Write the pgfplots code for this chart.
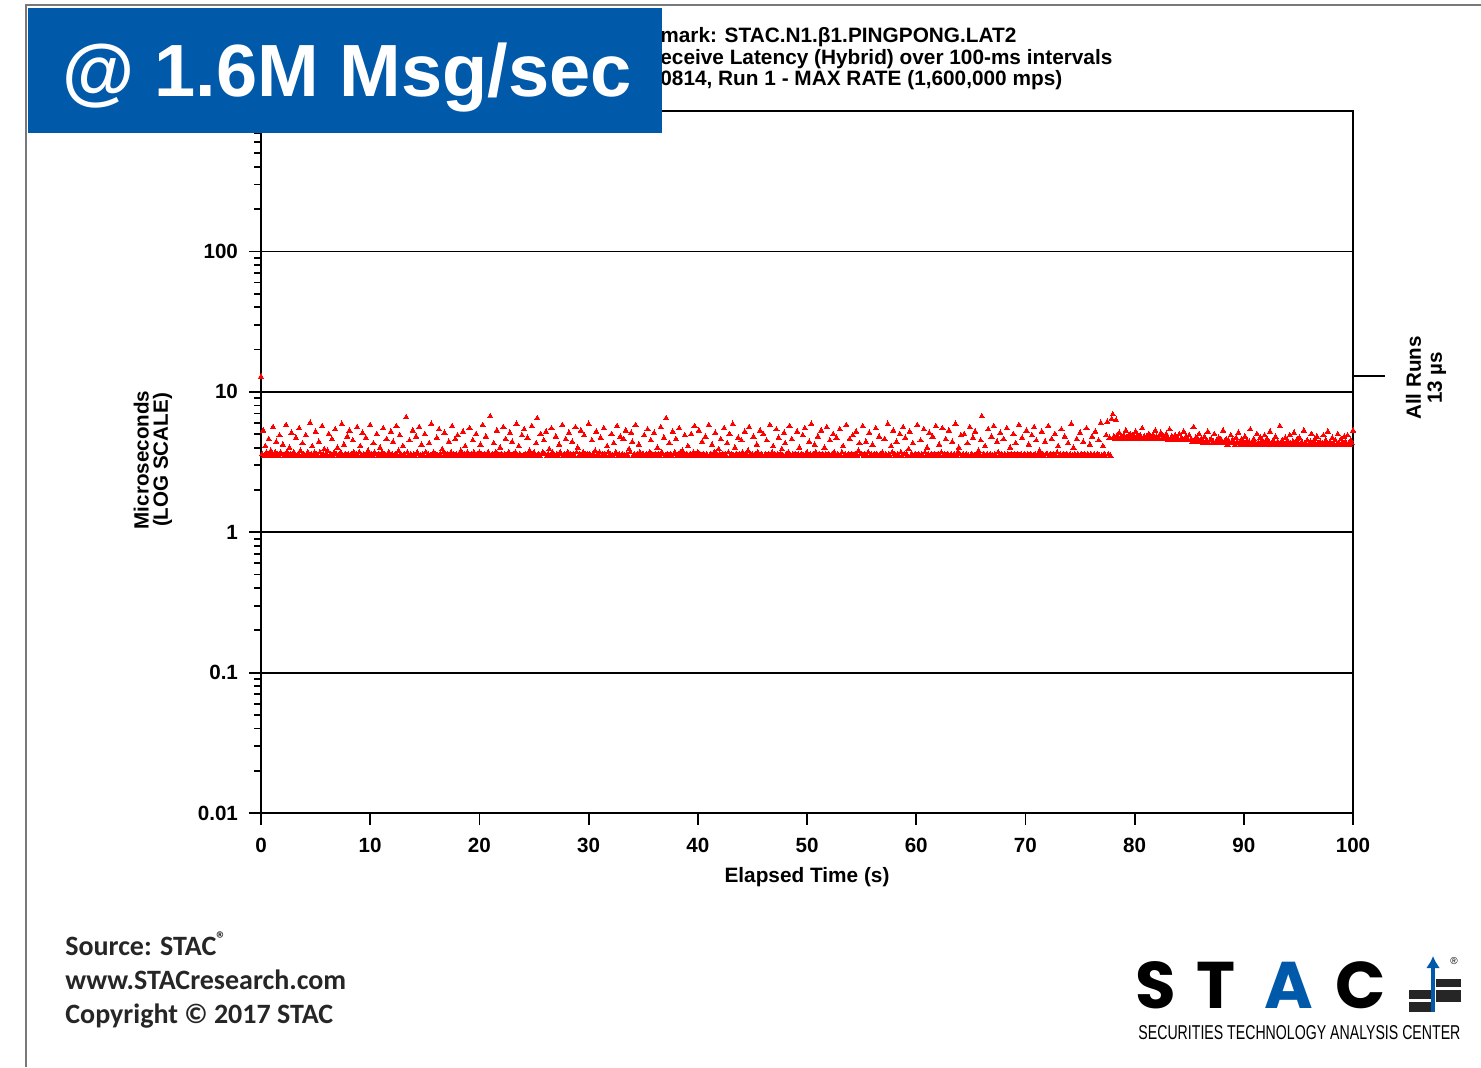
\documentclass[border=0pt]{standalone}
\usepackage{fontspec}
\setmainfont{Liberation Sans}
\newfontfamily\carlito{Carlito}
\newfontfamily\poppins{Poppins}
\usepackage{graphicx}
\usepackage{pgfplots}
\usetikzlibrary{arrows.meta}
\pgfplotsset{compat=1.18}
\definecolor{stacblue}{RGB}{0,89,169}
\definecolor{pagegray}{RGB}{120,120,120}
\definecolor{ptred}{RGB}{255,0,0}

\begin{document}
\begin{tikzpicture}[x=0.5pt,y=0.5pt]
\useasboundingbox (0,0) rectangle (1481,1067);
\fill[white] (0,0) rectangle (1481,1067);
\draw[pagegray, line width=1pt] (26,0) -- (26,1062) -- (1481,1062);

\begin{axis}[
  at={(130.5pt,127pt)}, anchor=south west,
  scale only axis, width=546pt, height=351pt,
  clip=false,
  xmin=0, xmax=100, ymin=0.01, ymax=1000,
  ymode=log,
  xtick={0,10,20,30,40,50,60,70,80,90,100},
  xticklabels={0,10,20,30,40,50,60,70,80,90,100},
  ytick={0.01,0.1,1,10,100},
  yticklabels={0.01,0.1,1,10,100},
  minor ytick={0.02,0.03,0.04,0.05,0.06,0.07,0.08,0.09,
    0.2,0.3,0.4,0.5,0.6,0.7,0.8,0.9,2,3,4,5,6,7,8,9,
    20,30,40,50,60,70,80,90,200,300,400,500,600,700,800,900},
  xtick pos=bottom, ytick pos=left,
  tick align=outside,
  major tick length=6pt, minor tick length=3.5pt,
  every tick/.style={black, line width=0.9pt},
  axis line style={line width=1pt},
  ymajorgrids, grid style={black, line width=0.9pt},
  /pgf/number format/assume math mode=true,
  ticklabel style={font=\fontsize{10.3}{12}\selectfont\bfseries},
  yticklabel style={xshift=-2pt},
  xticklabel style={yshift=-3pt},
  xlabel={Elapsed Time (s)},
  xlabel style={font=\fontsize{10.4}{12}\selectfont\bfseries, at={(axis description cs:0.5,0)}, anchor=center, yshift=-32pt},
]
\addplot[only marks, mark=triangle*, mark size=1.5pt, color=ptred, mark options={line width=0pt}] coordinates {
(0.0,12.8)(0.1,3.6)(0.2,5.3)(0.3,3.5)(0.4,4.1)(0.5,3.7)(0.6,3.6)(0.7,4.6)(0.8,3.5)(0.9,3.8)
(1.0,3.6)(1.1,5.6)(1.2,3.5)(1.3,3.7)(1.4,4.4)(1.5,3.6)(1.6,3.5)(1.7,4.9)(1.8,3.7)(1.9,3.6)
(2.0,4.2)(2.1,3.5)(2.2,3.6)(2.3,5.8)(2.4,3.7)(2.5,3.5)(2.6,4.0)(2.7,3.6)(2.8,5.1)(2.9,3.5)
(3.0,3.7)(3.1,3.6)(3.2,4.7)(3.3,3.5)(3.4,3.6)(3.5,5.5)(3.6,3.8)(3.7,3.5)(3.8,4.3)(3.9,3.6)
(4.0,3.5)(4.1,4.9)(4.2,3.6)(4.3,3.7)(4.4,3.5)(4.5,6.0)(4.6,3.6)(4.7,4.1)(4.8,3.5)(4.9,3.7)
(5.0,5.2)(5.1,3.6)(5.2,3.5)(5.3,4.4)(5.4,3.7)(5.5,3.5)(5.6,5.7)(5.7,3.6)(5.8,3.9)(5.9,3.5)
(6.0,3.6)(6.1,3.8)(6.2,5.0)(6.3,3.5)(6.4,3.6)(6.5,4.6)(6.6,3.5)(6.7,3.7)(6.8,5.4)(6.9,3.6)
(7.0,4.0)(7.1,3.5)(7.2,3.6)(7.3,3.7)(7.4,5.9)(7.5,3.5)(7.6,4.2)(7.7,3.6)(7.8,3.5)(7.9,4.8)
(8.0,3.6)(8.1,5.3)(8.2,3.5)(8.3,3.6)(8.4,4.5)(8.5,3.7)(8.6,3.5)(8.7,3.6)(8.8,5.6)(8.9,3.5)
(9.0,3.7)(9.1,4.1)(9.2,3.5)(9.3,5.1)(9.4,3.6)(9.5,3.5)(9.6,4.7)(9.7,3.6)(9.8,3.8)(9.9,3.5)
(10.0,5.8)(10.1,3.6)(10.2,3.5)(10.3,4.3)(10.4,3.7)(10.5,3.6)(10.6,5.0)(10.7,3.5)(10.8,3.6)(10.9,4.0)
(11.0,3.5)(11.1,3.7)(11.2,5.5)(11.3,3.6)(11.4,3.5)(11.5,4.6)(11.6,3.6)(11.7,3.7)(11.8,3.5)(11.9,5.2)
(12.0,3.6)(12.1,4.4)(12.2,3.5)(12.3,3.6)(12.4,5.7)(12.5,3.5)(12.6,3.8)(12.7,4.9)(12.8,3.6)(12.9,3.5)
(13.0,4.1)(13.1,3.6)(13.2,3.5)(13.3,6.6)(13.4,3.7)(13.5,3.5)(13.6,4.5)(13.7,3.6)(13.8,3.5)(13.9,5.3)
(14.0,3.6)(14.1,3.5)(14.2,4.8)(14.3,3.7)(14.4,3.6)(14.5,5.6)(14.6,3.5)(14.7,4.2)(14.8,3.6)(14.9,3.5)
(15.0,5.0)(15.1,3.7)(15.2,3.5)(15.3,3.6)(15.4,4.3)(15.5,3.5)(15.6,5.9)(15.7,3.6)(15.8,3.7)(15.9,3.5)
(16.0,3.6)(16.1,4.7)(16.2,3.5)(16.3,5.4)(16.4,3.6)(16.5,3.5)(16.6,3.9)(16.7,3.7)(16.8,5.1)(16.9,3.6)
(17.0,3.5)(17.1,3.6)(17.2,4.4)(17.3,3.5)(17.4,3.7)(17.5,5.7)(17.6,3.6)(17.7,3.5)(17.8,4.6)(17.9,3.6)
(18.0,4.9)(18.1,3.5)(18.2,3.6)(18.3,3.8)(18.4,3.5)(18.5,5.2)(18.6,3.6)(18.7,4.1)(18.8,3.5)(18.9,3.7)
(19.0,3.6)(19.1,5.5)(19.2,3.5)(19.3,3.6)(19.4,4.5)(19.5,3.7)(19.6,3.5)(19.7,5.0)(19.8,3.6)(19.9,3.5)
(20.0,3.7)(20.1,4.2)(20.2,3.6)(20.3,5.8)(20.4,3.5)(20.5,3.6)(20.6,4.8)(20.7,3.5)(20.8,3.7)(20.9,3.6)
(21.0,6.7)(21.1,3.5)(21.2,3.6)(21.3,4.3)(21.4,3.5)(21.5,3.7)(21.6,5.3)(21.7,3.6)(21.8,3.5)(21.9,4.0)
(22.0,3.6)(22.1,3.5)(22.2,5.6)(22.3,3.6)(22.4,4.6)(22.5,3.5)(22.6,3.6)(22.7,3.7)(22.8,5.1)(22.9,3.5)
(23.0,4.4)(23.1,3.6)(23.2,3.5)(23.3,3.7)(23.4,5.9)(23.5,3.5)(23.6,4.1)(23.7,3.6)(23.8,3.5)(23.9,4.9)
(24.0,3.5)(24.1,5.4)(24.2,3.6)(24.3,3.5)(24.4,4.7)(24.5,3.6)(24.6,3.8)(24.7,3.5)(24.8,5.7)(24.9,3.6)
(25.0,3.7)(25.1,3.5)(25.2,4.3)(25.3,6.5)(25.4,3.6)(25.5,3.5)(25.6,5.0)(25.7,3.6)(25.8,3.7)(25.9,4.5)
(26.0,3.6)(26.1,5.2)(26.2,3.5)(26.3,3.6)(26.4,3.9)(26.5,3.5)(26.6,5.5)(26.7,3.7)(26.8,3.6)(26.9,3.5)
(27.0,4.8)(27.1,3.6)(27.2,3.5)(27.3,4.2)(27.4,3.7)(27.5,3.6)(27.6,5.8)(27.7,3.5)(27.8,3.6)(27.9,4.6)
(28.0,3.5)(28.1,3.7)(28.2,5.1)(28.3,3.6)(28.4,3.5)(28.5,4.4)(28.6,3.6)(28.7,3.5)(28.8,5.6)(28.9,3.7)
(29.0,4.0)(29.1,3.5)(29.2,3.6)(29.3,5.3)(29.4,3.5)(29.5,3.7)(29.6,4.9)(29.7,3.6)(29.8,3.5)(29.9,3.6)
(30.0,5.9)(30.1,3.6)(30.2,3.5)(30.3,4.5)(30.4,3.6)(30.5,3.5)(30.6,3.8)(30.7,5.2)(30.8,3.6)(30.9,3.5)
(31.0,3.7)(31.1,4.7)(31.2,3.5)(31.3,3.6)(31.4,5.5)(31.5,3.6)(31.6,3.5)(31.7,4.1)(31.8,3.7)(31.9,3.5)
(32.0,3.6)(32.1,5.0)(32.2,3.5)(32.3,4.3)(32.4,3.6)(32.5,3.7)(32.6,5.7)(32.7,3.5)(32.8,3.6)(32.9,4.8)
(33.0,3.5)(33.1,3.6)(33.2,4.6)(33.3,3.5)(33.4,5.3)(33.5,3.6)(33.6,3.5)(33.7,3.9)(33.8,3.7)(33.9,5.1)
(34.0,4.4)(34.1,3.5)(34.2,3.6)(34.3,5.8)(34.4,3.5)(34.5,3.6)(34.6,4.2)(34.7,3.7)(34.8,3.5)(34.9,3.6)
(35.0,3.6)(35.1,4.9)(35.2,3.5)(35.3,3.6)(35.4,5.4)(35.5,3.5)(35.6,3.7)(35.7,4.5)(35.8,3.6)(35.9,3.5)
(36.0,5.1)(36.1,3.6)(36.2,3.5)(36.3,4.0)(36.4,3.6)(36.5,3.5)(36.6,5.6)(36.7,3.7)(36.8,3.6)(36.9,4.7)
(37.0,3.5)(37.1,6.5)(37.2,3.6)(37.3,3.5)(37.4,4.3)(37.5,3.6)(37.6,3.5)(37.7,5.2)(37.8,3.6)(37.9,3.7)
(38.0,4.6)(38.1,3.5)(38.2,3.6)(38.3,5.5)(38.4,3.7)(38.5,3.5)(38.6,3.8)(38.7,3.6)(38.8,4.9)(38.9,3.5)
(39.0,3.6)(39.1,4.1)(39.2,3.5)(39.3,3.6)(39.4,5.0)(39.5,3.5)(39.6,3.7)(39.7,5.7)(39.8,3.6)(39.9,3.5)
(40.0,3.7)(40.1,5.3)(40.2,3.6)(40.3,3.5)(40.4,4.4)(40.5,3.6)(40.6,3.5)(40.7,4.8)(40.8,3.6)(40.9,3.5)
(41.0,5.8)(41.1,3.5)(41.2,3.6)(41.3,4.2)(41.4,3.5)(41.5,3.7)(41.6,5.1)(41.7,3.6)(41.8,3.5)(41.9,3.9)
(42.0,3.6)(42.1,4.6)(42.2,3.5)(42.3,3.6)(42.4,5.5)(42.5,3.6)(42.6,3.5)(42.7,4.3)(42.8,3.7)(42.9,5.0)
(43.0,3.5)(43.1,3.6)(43.2,5.9)(43.3,3.5)(43.4,4.0)(43.5,3.6)(43.6,3.5)(43.7,4.7)(43.8,3.6)(43.9,3.5)
(44.0,4.5)(44.1,3.7)(44.2,3.5)(44.3,5.2)(44.4,3.6)(44.5,3.5)(44.6,3.8)(44.7,5.6)(44.8,3.6)(44.9,3.5)
(45.0,3.6)(45.1,4.8)(45.2,3.5)(45.3,3.6)(45.4,4.2)(45.5,3.7)(45.6,3.5)(45.7,5.3)(45.8,3.6)(45.9,3.5)
(46.0,5.0)(46.1,3.5)(46.2,3.6)(46.3,4.5)(46.4,3.5)(46.5,3.6)(46.6,5.8)(46.7,3.5)(46.8,3.7)(46.9,4.1)
(47.0,3.6)(47.1,3.5)(47.2,5.4)(47.3,3.6)(47.4,4.7)(47.5,3.5)(47.6,3.6)(47.7,3.9)(47.8,3.5)(47.9,5.1)
(48.0,4.3)(48.1,3.6)(48.2,3.5)(48.3,3.7)(48.4,5.7)(48.5,3.5)(48.6,4.6)(48.7,3.6)(48.8,3.5)(48.9,3.6)
(49.0,3.5)(49.1,5.2)(49.2,3.6)(49.3,4.0)(49.4,3.5)(49.5,3.6)(49.6,4.9)(49.7,3.5)(49.8,5.5)(49.9,3.6)
(50.0,3.7)(50.1,3.5)(50.2,4.4)(50.3,3.6)(50.4,5.9)(50.5,3.5)(50.6,3.6)(50.7,4.2)(50.8,3.7)(50.9,3.5)
(51.0,4.8)(51.1,3.6)(51.2,3.5)(51.3,5.3)(51.4,3.6)(51.5,3.5)(51.6,4.0)(51.7,3.6)(51.8,5.6)(51.9,3.5)
(52.0,3.6)(52.1,4.5)(52.2,3.5)(52.3,3.6)(52.4,5.0)(52.5,3.7)(52.6,3.5)(52.7,4.7)(52.8,3.6)(52.9,3.5)
(53.0,5.4)(53.1,3.5)(53.2,3.7)(53.3,4.1)(53.4,3.5)(53.5,3.6)(53.6,5.8)(53.7,3.5)(53.8,3.6)(53.9,4.6)
(54.0,3.5)(54.1,3.6)(54.2,4.9)(54.3,3.5)(54.4,3.6)(54.5,5.2)(54.6,3.5)(54.7,3.8)(54.8,4.3)(54.9,3.6)
(55.0,3.6)(55.1,5.7)(55.2,3.5)(55.3,3.6)(55.4,4.4)(55.5,3.5)(55.6,3.7)(55.7,5.1)(55.8,3.5)(55.9,3.6)
(56.0,4.2)(56.1,3.5)(56.2,3.6)(56.3,5.5)(56.4,3.6)(56.5,3.5)(56.6,4.8)(56.7,3.6)(56.8,3.5)(56.9,3.7)
(57.0,3.5)(57.1,4.6)(57.2,3.6)(57.3,3.5)(57.4,5.9)(57.5,3.6)(57.6,3.5)(57.7,4.1)(57.8,3.7)(57.9,5.3)
(58.0,3.6)(58.1,3.5)(58.2,4.4)(58.3,3.6)(58.4,3.5)(58.5,5.0)(58.6,3.7)(58.7,3.5)(58.8,5.6)(58.9,3.6)
(59.0,4.7)(59.1,3.6)(59.2,3.5)(59.3,3.9)(59.4,5.2)(59.5,3.5)(59.6,3.6)(59.7,4.3)(59.8,3.5)(59.9,3.6)
(60.0,3.5)(60.1,5.8)(60.2,3.6)(60.3,3.5)(60.4,4.5)(60.5,3.6)(60.6,3.5)(60.7,5.4)(60.8,3.7)(60.9,3.5)
(61.0,4.0)(61.1,3.6)(61.2,5.1)(61.3,3.5)(61.4,3.6)(61.5,4.8)(61.6,3.5)(61.7,3.6)(61.8,5.7)(61.9,3.5)
(62.0,3.6)(62.1,4.2)(62.2,3.5)(62.3,3.7)(62.4,5.5)(62.5,3.5)(62.6,3.6)(62.7,4.6)(62.8,3.5)(62.9,3.6)
(63.0,5.3)(63.1,3.5)(63.2,3.6)(63.3,4.4)(63.4,3.5)(63.5,3.6)(63.6,5.9)(63.7,3.5)(63.8,3.7)(63.9,4.0)
(64.0,3.6)(64.1,4.9)(64.2,3.5)(64.3,3.6)(64.4,5.0)(64.5,3.5)(64.6,3.6)(64.7,4.3)(64.8,3.5)(64.9,5.6)
(65.0,3.5)(65.1,3.6)(65.2,4.7)(65.3,3.5)(65.4,5.2)(65.5,3.6)(65.6,3.5)(65.7,3.8)(65.8,3.6)(65.9,4.5)
(66.0,6.7)(66.1,3.5)(66.2,3.6)(66.3,4.1)(66.4,3.5)(66.5,3.6)(66.6,5.4)(66.7,3.5)(66.8,3.6)(66.9,4.8)
(67.0,3.5)(67.1,5.7)(67.2,3.6)(67.3,3.5)(67.4,4.4)(67.5,3.7)(67.6,3.5)(67.7,5.1)(67.8,3.6)(67.9,3.5)
(68.0,4.6)(68.1,3.6)(68.2,3.5)(68.3,5.5)(68.4,3.6)(68.5,3.5)(68.6,4.0)(68.7,3.6)(68.8,3.5)(68.9,5.0)
(69.0,3.6)(69.1,4.3)(69.2,3.5)(69.3,3.6)(69.4,5.8)(69.5,3.5)(69.6,3.6)(69.7,4.7)(69.8,3.5)(69.9,3.6)
(70.0,3.5)(70.1,5.3)(70.2,3.6)(70.3,4.2)(70.4,3.5)(70.5,3.6)(70.6,4.9)(70.7,3.5)(70.8,5.6)(70.9,3.6)
(71.0,4.5)(71.1,3.5)(71.2,3.6)(71.3,3.8)(71.4,3.5)(71.5,5.2)(71.6,3.6)(71.7,3.5)(71.8,4.4)(71.9,3.6)
(72.0,3.6)(72.1,5.7)(72.2,3.5)(72.3,3.6)(72.4,4.6)(72.5,3.5)(72.6,3.6)(72.7,5.0)(72.8,3.5)(72.9,3.7)
(73.0,4.1)(73.1,3.5)(73.2,3.6)(73.3,5.4)(73.4,3.5)(73.5,3.6)(73.6,4.8)(73.7,3.5)(73.8,3.6)(73.9,4.3)
(74.0,3.5)(74.1,3.6)(74.2,5.9)(74.3,3.5)(74.4,4.0)(74.5,3.6)(74.6,3.5)(74.7,4.6)(74.8,3.6)(74.9,3.5)
(75.0,5.1)(75.1,3.6)(75.2,3.5)(75.3,4.4)(75.4,3.6)(75.5,3.5)(75.6,5.5)(75.7,3.6)(75.8,3.5)(75.9,4.2)
(76.0,3.6)(76.1,4.8)(76.2,3.5)(76.3,3.6)(76.4,5.2)(76.5,3.5)(76.6,3.6)(76.7,4.5)(76.8,3.5)(76.9,6.0)
(77.0,3.5)(77.1,4.1)(77.2,3.6)(77.3,3.5)(77.4,4.9)(77.5,6.1)(77.6,3.6)(77.7,4.7)(77.8,3.5)(77.9,6.4)
(78.0,6.9)(78.1,4.8)(78.2,4.6)(78.3,6.3)(78.4,4.9)(78.5,4.7)(78.6,5.1)(78.7,4.6)(78.8,4.8)(78.9,4.7)
(79.0,4.9)(79.1,4.6)(79.2,5.3)(79.3,4.7)(79.4,4.8)(79.5,4.6)(79.6,5.0)(79.7,4.7)(79.8,4.9)(79.9,4.6)
(80.0,4.7)(80.1,5.2)(80.2,4.8)(80.3,4.6)(80.4,4.7)(80.5,4.9)(80.6,4.6)(80.7,5.5)(80.8,4.7)(80.9,4.8)
(81.0,4.6)(81.1,4.8)(81.2,4.7)(81.3,5.0)(81.4,4.6)(81.5,4.8)(81.6,4.7)(81.7,4.9)(81.8,4.6)(81.9,5.3)
(82.0,4.8)(82.1,4.6)(82.2,4.7)(82.3,4.9)(82.4,5.1)(82.5,4.6)(82.6,4.8)(82.7,4.7)(82.8,4.6)(82.9,5.0)
(83.0,4.7)(83.1,4.5)(83.2,5.4)(83.3,4.6)(83.4,4.8)(83.5,4.7)(83.6,4.5)(83.7,4.9)(83.8,4.6)(83.9,4.7)
(84.0,4.6)(84.1,5.0)(84.2,4.5)(84.3,4.7)(84.4,4.6)(84.5,5.2)(84.6,4.5)(84.7,4.8)(84.8,4.6)(84.9,4.5)
(85.0,4.9)(85.1,4.5)(85.2,4.6)(85.3,4.4)(85.4,5.6)(85.5,4.5)(85.6,4.7)(85.7,4.4)(85.8,4.6)(85.9,5.0)
(86.0,4.4)(86.1,4.6)(86.2,4.5)(86.3,4.3)(86.4,4.8)(86.5,4.4)(86.6,4.5)(86.7,5.2)(86.8,4.3)(86.9,4.5)
(87.0,4.6)(87.1,4.3)(87.2,4.4)(87.3,5.0)(87.4,4.3)(87.5,4.5)(87.6,4.4)(87.7,4.7)(87.8,4.3)(87.9,4.6)
(88.0,4.3)(88.1,5.3)(88.2,4.4)(88.3,4.3)(88.4,4.6)(88.5,4.2)(88.6,4.5)(88.7,4.3)(88.8,4.9)(88.9,4.4)
(89.0,4.5)(89.1,4.3)(89.2,4.2)(89.3,4.7)(89.4,4.4)(89.5,5.1)(89.6,4.3)(89.7,4.2)(89.8,4.6)(89.9,4.4)
(90.0,4.2)(90.1,4.8)(90.2,4.3)(90.3,4.5)(90.4,4.2)(90.5,4.4)(90.6,5.4)(90.7,4.3)(90.8,4.2)(90.9,4.6)
(91.0,4.4)(91.1,4.2)(91.2,5.0)(91.3,4.3)(91.4,4.2)(91.5,4.7)(91.6,4.3)(91.7,4.5)(91.8,4.2)(91.9,4.9)
(92.0,4.3)(92.1,4.6)(92.2,4.2)(92.3,4.4)(92.4,5.2)(92.5,4.2)(92.6,4.3)(92.7,4.5)(92.8,4.2)(92.9,4.8)
(93.0,4.2)(93.1,4.4)(93.2,4.3)(93.3,5.7)(93.4,4.2)(93.5,4.5)(93.6,4.3)(93.7,4.2)(93.8,4.7)(93.9,4.3)
(94.0,4.5)(94.1,4.2)(94.2,4.9)(94.3,4.3)(94.4,4.2)(94.5,4.4)(94.6,5.1)(94.7,4.2)(94.8,4.3)(94.9,4.6)
(95.0,4.3)(95.1,4.7)(95.2,4.2)(95.3,4.4)(95.4,4.2)(95.5,5.3)(95.6,4.3)(95.7,4.2)(95.8,4.5)(95.9,4.2)
(96.0,4.2)(96.1,4.4)(96.2,5.0)(96.3,4.2)(96.4,4.3)(96.5,4.6)(96.6,4.2)(96.7,4.8)(96.8,4.3)(96.9,4.2)
(97.0,4.4)(97.1,4.2)(97.2,4.3)(97.3,4.9)(97.4,4.2)(97.5,4.5)(97.6,4.3)(97.7,5.2)(97.8,4.2)(97.9,4.4)
(98.0,4.2)(98.1,4.7)(98.2,4.3)(98.3,4.2)(98.4,4.5)(98.5,4.2)(98.6,5.0)(98.7,4.3)(98.8,4.2)(98.9,4.6)
(99.0,4.3)(99.1,4.2)(99.2,4.8)(99.3,4.4)(99.4,4.2)(99.5,4.9)(99.6,4.3)(99.7,4.2)(99.8,4.5)(99.9,4.3)
(100.0,5.3)
};
\draw[line width=1pt] (axis cs:100,13) -- ([xshift=16pt]axis cs:100,13);
\end{axis}

% y axis label
\node[rotate=90, align=center, font=\fontsize{10.3}{9.6}\selectfont\bfseries] at (153,607) {Microseconds\\(LOG SCALE)};
% right annotation
\node[rotate=90, align=center, font=\fontsize{10.3}{10.5}\selectfont\bfseries] at (1426,689) {All Runs\\13 µs};

% title (partly hidden by the banner)
\node[anchor=north west, align=left, inner sep=0pt, font=\fontsize{10.4}{10.8}\selectfont\bfseries] at (660,1040)
  {mark: STAC.N1.β1.PINGPONG.LAT2\\eceive Latency (Hybrid) over 100-ms intervals\\0814, Run 1 - MAX RATE (1,600,000 mps)};

% banner
\fill[stacblue] (28,934) rectangle (662,1059);
\node[white, font=\fontsize{37}{40}\selectfont\bfseries] at (347,989) {@ 1.6M Msg/sec};

% source text
\node[anchor=north west, align=left, inner sep=0pt, font=\carlito\bfseries\fontsize{14}{17}\selectfont, color=black!85] at (65,136)
  {Source: STAC\textsuperscript{®}\\www.STACresearch.com\\Copyright © 2017 STAC};

% logo
\begin{scope}[font=\poppins\fontsize{33}{36}\selectfont]
\node[anchor=base, inner sep=0pt] at (1156,59) {\bfseries S};
\node[anchor=base, inner sep=0pt] at (1216,59) {\bfseries T};
\node[anchor=base, inner sep=0pt, text=stacblue] at (1289,59) {\bfseries A};
\node[anchor=base, inner sep=0pt] at (1361,59) {\bfseries C};
\end{scope}
\node[anchor=base west, inner sep=0pt] at (1138,28) {\resizebox{161pt}{7pt}{SECURITIES TECHNOLOGY ANALYSIS CENTER}};
\fill[black!85] (1409,68) rectangle (1431,77);
\fill[black!85] (1409,55) rectangle (1431,65);
\fill[black!85] (1436,80) rectangle (1461,88);
\fill[black!85] (1436,65) rectangle (1461,77);
\draw[stacblue, line width=1.6pt, -{Latex[length=6pt,width=7pt]}] (1433,55) -- (1433,111);
\node[font=\fontsize{5}{6}\selectfont] at (1454,106) {®};
\end{tikzpicture}
\end{document}
